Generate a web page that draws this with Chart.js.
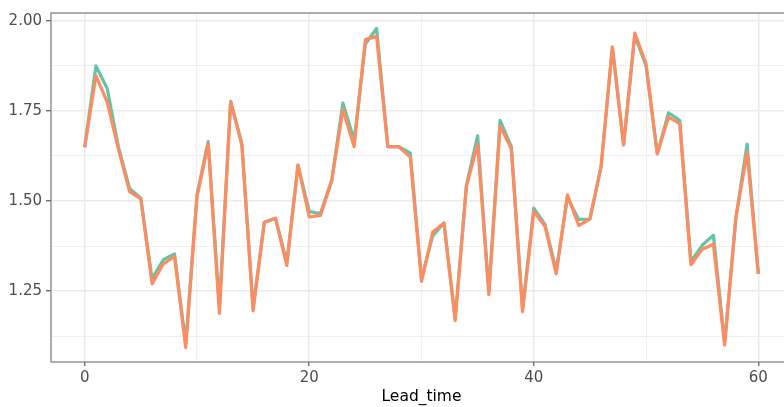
<!DOCTYPE html>
<html>
<head>
<meta charset="utf-8">
<script src="https://cdn.jsdelivr.net/npm/chart.js@4"></script>
<style>
    html, body { margin: 0; padding: 0; background: #fff; overflow: hidden; }
    #wrap { width: 792px; height: 407px; position: relative; }
</style>
</head>
<body>
<div id="wrap"><canvas id="leadChart"></canvas></div>
<script>
// Data
const leadTime = [0, 1, 2, 3, 4, 5, 6, 7, 8, 9, 10, 11, 12, 13, 14, 15, 16, 17, 18, 19, 20,
    21, 22, 23, 24, 25, 26, 27, 28, 29, 30, 31, 32, 33, 34, 35, 36, 37, 38, 39, 40,
    41, 42, 43, 44, 45, 46, 47, 48, 49, 50, 51, 52, 53, 54, 55, 56, 57, 58, 59, 60];

const seriesA = [1.649, 1.875, 1.813, 1.651, 1.535, 1.508, 1.284, 1.337, 1.353, 1.104,
    1.517, 1.665, 1.207, 1.777, 1.660, 1.204, 1.441, 1.452, 1.330, 1.599,
    1.471, 1.465, 1.558, 1.772, 1.668, 1.936, 1.979, 1.651, 1.651, 1.633,
    1.284, 1.403, 1.439, 1.175, 1.544, 1.681, 1.248, 1.724, 1.651, 1.200,
    1.480, 1.435, 1.307, 1.510, 1.449, 1.450, 1.596, 1.927, 1.656, 1.959,
    1.875, 1.631, 1.745, 1.724, 1.332, 1.377, 1.405, 1.106, 1.453, 1.658, 1.298];

const seriesB = [1.649, 1.848, 1.775, 1.645, 1.526, 1.506, 1.270, 1.325, 1.346, 1.093,
    1.510, 1.660, 1.188, 1.775, 1.655, 1.195, 1.441, 1.452, 1.321, 1.600,
    1.456, 1.460, 1.555, 1.754, 1.651, 1.948, 1.957, 1.651, 1.650, 1.622,
    1.277, 1.414, 1.439, 1.168, 1.540, 1.658, 1.240, 1.708, 1.645, 1.193,
    1.471, 1.430, 1.298, 1.517, 1.432, 1.450, 1.596, 1.927, 1.656, 1.966,
    1.881, 1.631, 1.733, 1.715, 1.323, 1.366, 1.380, 1.100, 1.453, 1.635, 1.298];

// Axis ticks (major get labels, minor only grid lines)
const xMajor = [0, 20, 40, 60];
const xMinor = [10, 30, 50];
const yMajor = [1.25, 1.50, 1.75, 2.00];
const yMinor = [1.125, 1.375, 1.625, 1.875];

const FONT = "'DejaVu Sans', sans-serif";
const GRID = '#ebebeb';

// Panel border drawn on top, like ggplot theme_bw
const panelBorder = {
    id: 'panelBorder',
    afterDatasetsDraw(chart) {
        const { ctx, chartArea: a } = chart;
        ctx.save();
        ctx.strokeStyle = '#7a7a7a';
        ctx.lineWidth = 1.2;
        ctx.strokeRect(a.left, a.top, a.right - a.left, a.bottom - a.top);
        ctx.restore();
    }
};

function toPoints(values) {
    return leadTime.map((x, i) => ({ x: x, y: values[i] }));
}

function isMajor(list, v) {
    return list.some(m => Math.abs(m - v) < 1e-9);
}

new Chart(document.getElementById('leadChart').getContext('2d'), {
    type: 'line',
    data: {
        datasets: [
            {
                label: 'A',
                data: toPoints(seriesA),
                borderColor: '#66c2a5',
                borderWidth: 3.2,
                pointRadius: 0,
                borderJoinStyle: 'round',
                tension: 0,
                order: 1
            },
            {
                label: 'B',
                data: toPoints(seriesB),
                borderColor: '#fc8d62',
                borderWidth: 3.2,
                pointRadius: 0,
                borderJoinStyle: 'round',
                tension: 0,
                order: 0
            }
        ]
    },
    options: {
        responsive: true,
        maintainAspectRatio: false,
        animation: false,
        layout: { padding: { top: 7, left: 0, right: 0, bottom: 0 } },
        plugins: {
            legend: { display: false },
            tooltip: { enabled: false }
        },
        scales: {
            x: {
                type: 'linear',
                min: -3,
                max: 63,
                afterBuildTicks: (scale) => {
                    scale.ticks = xMajor.concat(xMinor).sort((a, b) => a - b).map(v => ({ value: v }));
                },
                afterFit: (scale) => { scale.height = 45; },
                border: { display: false },
                grid: {
                    color: GRID,
                    lineWidth: (c) => isMajor(xMajor, c.tick.value) ? 1.5 : 0.8,
                    tickColor: (c) => isMajor(xMajor, c.tick.value) ? '#555' : 'rgba(0,0,0,0)',
                    tickWidth: 1.2,
                    tickLength: 4
                },
                ticks: {
                    autoSkip: false,
                    maxRotation: 0,
                    padding: 3,
                    color: '#4d4d4d',
                    font: { family: FONT, size: 15 },
                    callback: (v) => isMajor(xMajor, v) ? String(v) : ''
                },
                title: {
                    display: true,
                    text: 'Lead_time',
                    color: '#000',
                    font: { family: FONT, size: 15.5, lineHeight: 1.2 },
                    padding: { top: 0, bottom: 1 }
                }
            },
            y: {
                type: 'linear',
                min: 1.053,
                max: 2.022,
                afterBuildTicks: (scale) => {
                    scale.ticks = yMajor.concat(yMinor).sort((a, b) => a - b).map(v => ({ value: v }));
                },
                afterFit: (scale) => { scale.width = 51; },
                border: { display: false },
                grid: {
                    color: GRID,
                    lineWidth: (c) => isMajor(yMajor, c.tick.value) ? 1.5 : 0.8,
                    tickColor: (c) => isMajor(yMajor, c.tick.value) ? '#555' : 'rgba(0,0,0,0)',
                    tickWidth: 1.2,
                    tickLength: 5
                },
                ticks: {
                    autoSkip: false,
                    padding: 4,
                    color: '#4d4d4d',
                    font: { family: FONT, size: 15 },
                    callback: (v) => isMajor(yMajor, v) ? v.toFixed(2) : ''
                }
            }
        }
    },
    plugins: [panelBorder]
});
</script>
</body>
</html>
